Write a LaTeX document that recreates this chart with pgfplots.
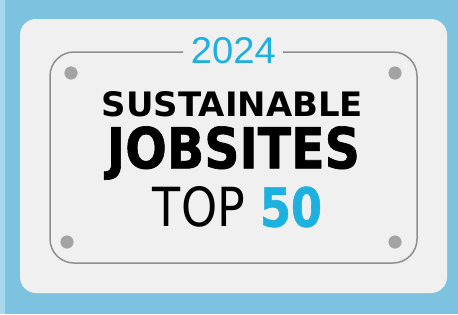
\documentclass[border=0pt]{standalone}
\usepackage{pgfplots}
\pgfplotsset{compat=1.18}
\usepackage{fontspec}
\setmainfont{DejaVu Sans}
\newfontfamily\thin{Liberation Sans}
\newfontfamily\heavy[FakeBold=1.2]{DejaVu Sans Bold}
\definecolor{bg}{HTML}{7DC3DF}
\definecolor{strip}{HTML}{A9D9EC}
\definecolor{card}{HTML}{F0F0F0}
\definecolor{frame}{HTML}{8E8E8E}
\definecolor{dot}{HTML}{A3A3A3}
\definecolor{accent}{HTML}{1DB1E0}
\begin{document}
\begin{tikzpicture}
\begin{axis}[
  width=458pt, height=314pt, scale only axis,
  xmin=0, xmax=458, ymin=0, ymax=314, y dir=reverse,
  hide axis, clip=false,
  every node/.style={inner sep=0pt, outer sep=0pt},
]
% background
\addplot[fill=bg, draw=none] coordinates {(0,0) (458,0) (458,314) (0,314)} -- cycle;
\addplot[fill=strip, draw=none] coordinates {(0,0) (5,0) (5,314) (0,314)} -- cycle;
% card
\addplot[fill=card, draw=none, rounded corners=16pt] coordinates {(233,19) (447,19) (447,293) (20,293) (20,19)} -- cycle;
% inner frame with gap for year
\addplot[draw=frame, line width=1.5pt, rounded corners=24pt] coordinates {(183,52) (50,52) (50,263) (417,263) (417,52) (283,52)};
% screws
\addplot[only marks, mark=*, mark size=6.3pt, color=dot] coordinates {(71,73) (395,73) (67,242) (395,242)};
% texts
\node at (axis cs:233.5,51) {\resizebox{85pt}{26pt}{\thin\textcolor{accent}{2024}}};
\node at (axis cs:232.5,104.5) {\resizebox{261pt}{25pt}{\bfseries SUSTAINABLE}};
\node at (axis cs:233.5,153) {\resizebox{253pt}{42pt}{\heavy JOBSITES}};
\node at (axis cs:199,207) {\resizebox{92pt}{40pt}{TOP}};
\node at (axis cs:291,207) {\resizebox{62pt}{40pt}{\heavy\textcolor{accent}{50}}};
\end{axis}
\end{tikzpicture}
\end{document}
